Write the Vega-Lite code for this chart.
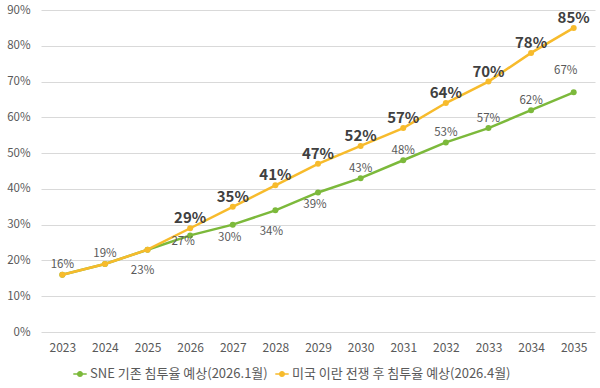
{
  "$schema": "https://vega.github.io/schema/vega-lite/v6.json",
  "autosize": "none",
  "width": 554,
  "height": 322,
  "padding": {"left": 41, "top": 10, "right": 5, "bottom": 56},
  "background": "white",
  "config": {
    "view": {"stroke": null},
    "font": "Noto Sans CJK KR"
  },
  "data": {
    "values": [
      {"year": "2023", "series": "SNE 기존 침투율 예상(2026.1월)", "value": 0.16},
      {"year": "2024", "series": "SNE 기존 침투율 예상(2026.1월)", "value": 0.19},
      {"year": "2025", "series": "SNE 기존 침투율 예상(2026.1월)", "value": 0.23},
      {"year": "2026", "series": "SNE 기존 침투율 예상(2026.1월)", "value": 0.27},
      {"year": "2027", "series": "SNE 기존 침투율 예상(2026.1월)", "value": 0.30},
      {"year": "2028", "series": "SNE 기존 침투율 예상(2026.1월)", "value": 0.34},
      {"year": "2029", "series": "SNE 기존 침투율 예상(2026.1월)", "value": 0.39},
      {"year": "2030", "series": "SNE 기존 침투율 예상(2026.1월)", "value": 0.43},
      {"year": "2031", "series": "SNE 기존 침투율 예상(2026.1월)", "value": 0.48},
      {"year": "2032", "series": "SNE 기존 침투율 예상(2026.1월)", "value": 0.53},
      {"year": "2033", "series": "SNE 기존 침투율 예상(2026.1월)", "value": 0.57},
      {"year": "2034", "series": "SNE 기존 침투율 예상(2026.1월)", "value": 0.62},
      {"year": "2035", "series": "SNE 기존 침투율 예상(2026.1월)", "value": 0.67},
      {"year": "2023", "series": "미국 이란 전쟁 후 침투율 예상(2026.4월)", "value": 0.16},
      {"year": "2024", "series": "미국 이란 전쟁 후 침투율 예상(2026.4월)", "value": 0.19},
      {"year": "2025", "series": "미국 이란 전쟁 후 침투율 예상(2026.4월)", "value": 0.23},
      {"year": "2026", "series": "미국 이란 전쟁 후 침투율 예상(2026.4월)", "value": 0.29},
      {"year": "2027", "series": "미국 이란 전쟁 후 침투율 예상(2026.4월)", "value": 0.35},
      {"year": "2028", "series": "미국 이란 전쟁 후 침투율 예상(2026.4월)", "value": 0.41},
      {"year": "2029", "series": "미국 이란 전쟁 후 침투율 예상(2026.4월)", "value": 0.47},
      {"year": "2030", "series": "미국 이란 전쟁 후 침투율 예상(2026.4월)", "value": 0.52},
      {"year": "2031", "series": "미국 이란 전쟁 후 침투율 예상(2026.4월)", "value": 0.57},
      {"year": "2032", "series": "미국 이란 전쟁 후 침투율 예상(2026.4월)", "value": 0.64},
      {"year": "2033", "series": "미국 이란 전쟁 후 침투율 예상(2026.4월)", "value": 0.70},
      {"year": "2034", "series": "미국 이란 전쟁 후 침투율 예상(2026.4월)", "value": 0.78},
      {"year": "2035", "series": "미국 이란 전쟁 후 침투율 예상(2026.4월)", "value": 0.85}
    ]
  },
  "encoding": {
    "x": {
      "field": "year", "type": "ordinal",
      "scale": {"type": "point", "padding": 0.5},
      "axis": {
        "title": null, "domain": false, "ticks": false, "labelAngle": 0,
        "labelPadding": 10, "labelFontSize": 12, "labelColor": "#595959",
        "labelFont": "Noto Sans CJK KR", "grid": false
      }
    },
    "y": {
      "field": "value", "type": "quantitative",
      "scale": {"domain": [0, 0.9], "nice": false},
      "axis": {
        "title": null, "domain": false, "ticks": false, "format": ".0%",
        "values": [0, 0.1, 0.2, 0.3, 0.4, 0.5, 0.6, 0.7, 0.8, 0.9],
        "labelPadding": 11, "labelFontSize": 11.5, "labelColor": "#595959",
        "labelFont": "Noto Sans CJK KR",
        "grid": true, "gridColor": "#d9d9d9", "gridWidth": 1
      }
    },
    "color": {
      "field": "series", "type": "nominal",
      "scale": {
        "domain": ["SNE 기존 침투율 예상(2026.1월)", "미국 이란 전쟁 후 침투율 예상(2026.4월)"],
        "range": ["#7cb93b", "#f7bb2c"]
      },
      "legend": {
        "title": null, "orient": "none", "direction": "horizontal",
        "legendX": 32, "legendY": 357, "labelLimit": 400,
        "labelFontSize": 13, "labelColor": "#595959", "labelFont": "Noto Sans CJK KR",
        "symbolType": "M-1,-0.12L1,-0.12L1,0.12L-1,0.12ZM0,-0.45A0.45,0.45 0 1,1 0,0.45A0.45,0.45 0 1,1 0,-0.45Z",
        "symbolSize": 180, "symbolStrokeWidth": 0, "columnPadding": 7, "labelOffset": 3
      }
    }
  },
  "layer": [
    {
      "transform": [{"filter": "datum.series === 'SNE 기존 침투율 예상(2026.1월)'"}],
      "mark": {"type": "line", "strokeWidth": 2.5, "point": {"filled": true, "size": 36}}
    },
    {
      "transform": [{"filter": "datum.series === '미국 이란 전쟁 후 침투율 예상(2026.4월)'"}],
      "mark": {"type": "line", "strokeWidth": 2.5, "point": {"filled": true, "size": 36}}
    },
    {
      "transform": [{"filter": "datum.series === '미국 이란 전쟁 후 침투율 예상(2026.4월)' && (datum.year === '2023' || datum.year === '2024')"}],
      "mark": {"type": "text", "dy": -10, "fontSize": 11.5, "color": "#595959"},
      "encoding": {"text": {"field": "value", "format": ".0%"}, "color": {"value": "#595959"}}
    },
    {
      "transform": [{"filter": "datum.series === '미국 이란 전쟁 후 침투율 예상(2026.4월)' && datum.year === '2025'"}],
      "mark": {"type": "text", "dy": 21, "dx": -5, "fontSize": 11.5},
      "encoding": {"text": {"field": "value", "format": ".0%"}, "color": {"value": "#595959"}}
    },
    {
      "transform": [{"filter": "datum.series === '미국 이란 전쟁 후 침투율 예상(2026.4월)' && datum.year >= '2026'"}],
      "mark": {"type": "text", "dy": -10, "fontSize": 15, "fontWeight": "bold"},
      "encoding": {"text": {"field": "value", "format": ".0%"}, "color": {"value": "#404040"}}
    },
    {
      "transform": [{"filter": "datum.series === 'SNE 기존 침투율 예상(2026.1월)' && datum.year === '2026'"}],
      "mark": {"type": "text", "dy": 7, "dx": -7, "fontSize": 11.5},
      "encoding": {"text": {"field": "value", "format": ".0%"}, "color": {"value": "#595959"}}
    },
    {
      "transform": [{"filter": "datum.series === 'SNE 기존 침투율 예상(2026.1월)' && (datum.year === '2027' || datum.year === '2029')"}],
      "mark": {"type": "text", "dy": 13, "dx": -3, "fontSize": 11.5},
      "encoding": {"text": {"field": "value", "format": ".0%"}, "color": {"value": "#595959"}}
    },
    {
      "transform": [{"filter": "datum.series === 'SNE 기존 침투율 예상(2026.1월)' && datum.year === '2028'"}],
      "mark": {"type": "text", "dy": 22, "dx": -4, "fontSize": 11.5},
      "encoding": {"text": {"field": "value", "format": ".0%"}, "color": {"value": "#595959"}}
    },
    {
      "transform": [{"filter": "datum.series === 'SNE 기존 침투율 예상(2026.1월)' && datum.year >= '2030' && datum.year <= '2034'"}],
      "mark": {"type": "text", "dy": -9, "fontSize": 11.5},
      "encoding": {"text": {"field": "value", "format": ".0%"}, "color": {"value": "#595959"}}
    },
    {
      "transform": [{"filter": "datum.series === 'SNE 기존 침투율 예상(2026.1월)' && datum.year === '2035'"}],
      "mark": {"type": "text", "dy": -21, "dx": -8, "fontSize": 11.5},
      "encoding": {"text": {"field": "value", "format": ".0%"}, "color": {"value": "#595959"}}
    }
  ]
}
